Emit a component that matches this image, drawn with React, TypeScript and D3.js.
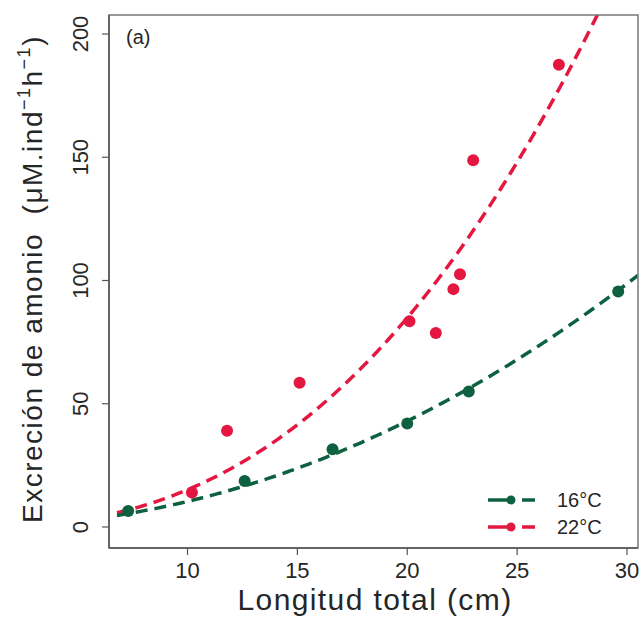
import React from "react";
import * as d3 from "d3";

const x16 = [7.3, 12.6, 16.6, 20.0, 22.8, 29.6];
const y16 = [6.5, 18.7, 31.5, 42, 55, 95.5];
const x22 = [10.2, 11.8, 15.1, 20.1, 21.3, 22.1, 22.4, 23.0, 26.9];
const y22 = [14, 39, 58.5, 83.5, 78.7, 96.5, 102.5, 148.8, 187.5];
// power-law fits y = a * x^b as drawn
const fit16 = { a: 0.0925, b: 2.05 };
const fit22 = { a: 0.0489, b: 2.49 };
const xTicks = [10, 15, 20, 25, 30];
const yTicks = [0, 50, 100, 150, 200];
const legendLabels = ["16°C", "22°C"];

const GREEN = "#0d6140";
const RED = "#e3173f";
const W = 640, H = 619;
const L = 109, R = 638, T = 15, B = 548;

export default function App() {
  const x = d3.scaleLinear().domain([10, 30]).range([187.5, 627]);
  const y = d3.scaleLinear().domain([0, 200]).range([527, 34]);
  const line = d3.line<[number, number]>().x(d => x(d[0])).y(d => y(d[1]));
  const curve = (f: { a: number; b: number }, x0: number, x1: number) => {
    const pts: [number, number][] = [];
    for (let i = 0; i <= 120; i++) {
      const xv = x0 + ((x1 - x0) * i) / 120;
      pts.push([xv, f.a * Math.pow(xv, f.b)]);
    }
    return line(pts) || "";
  };
  const xMin = x.invert(L + 8);
  const xMax = x.invert(R);
  const font = "Liberation Sans, Arial, sans-serif";
  const tc = "#262626";
  return (
    <svg width={W} height={H} style={{ position: "absolute", left: 0, top: 0 }} fontFamily={font}>
      <rect width={W} height={H} fill="#fff" />
      <defs>
        <clipPath id="plot">
          <rect x={L} y={T} width={R - L} height={B - T} />
        </clipPath>
      </defs>
      <g clipPath="url(#plot)">
        <path d={curve(fit22, xMin, xMax)} fill="none" stroke={RED} strokeWidth={3.5} strokeDasharray="12 7" />
        <path d={curve(fit16, xMin, xMax)} fill="none" stroke={GREEN} strokeWidth={3.5} strokeDasharray="12 7" />
        {x22.map((v, i) => (
          <circle key={"r" + i} cx={x(v)} cy={y(y22[i])} r={6} fill={RED} />
        ))}
        {x16.map((v, i) => (
          <circle key={"g" + i} cx={x(v)} cy={y(y16[i])} r={6} fill={GREEN} />
        ))}
      </g>
      <rect x={L} y={T} width={R - L} height={B - T} fill="none" stroke="#777" strokeWidth={1.5} />
      <line x1={L} y1={T} x2={L} y2={B} stroke="#555" strokeWidth={1.5} />
      <line x1={L} y1={B} x2={R} y2={B} stroke="#555" strokeWidth={1.5} />
      {yTicks.map(t => (
        <g key={"y" + t}>
          <line x1={L - 7} x2={L} y1={y(t)} y2={y(t)} stroke="#555" strokeWidth={1.2} />
          <text transform={`translate(${88},${y(t)}) rotate(-90)`} textAnchor="middle" fontSize={22} fill={tc}>{t}</text>
        </g>
      ))}
      {xTicks.map(t => (
        <g key={"x" + t}>
          <line x1={x(t)} x2={x(t)} y1={B} y2={B + 7} stroke="#555" strokeWidth={1.2} />
          <text x={x(t)} y={578} textAnchor="middle" fontSize={22} fill={tc}>{t}</text>
        </g>
      ))}
      <text x={375} y={610} textAnchor="middle" fontSize={30} letterSpacing={1.4} fill={tc}>Longitud total (cm)</text>
      <text transform={`translate(${42},${279}) rotate(-90)`} textAnchor="middle" fontSize={28} letterSpacing={1.5} fill={tc}>
        Excreción de amonio{"\u00a0\u00a0"}(μM.ind
        <tspan fontSize={18} dy={-12}>−1</tspan>
        <tspan dy={12}>h</tspan>
        <tspan fontSize={18} dy={-12}>−1</tspan>
        <tspan dy={12}>)</tspan>
      </text>
      <text x={126} y={44} fontSize={20} fill={tc}>(a)</text>
      {legendLabels.map((lab, i) => {
        const c = i === 0 ? GREEN : RED;
        const ly = 500 + i * 27;
        return (
          <g key={lab}>
            <line x1={488} x2={514} y1={ly} y2={ly} stroke={c} strokeWidth={3.5} />
            <line x1={522} x2={535} y1={ly} y2={ly} stroke={c} strokeWidth={3.5} />
            <circle cx={511} cy={ly} r={4.5} fill={c} />
            <text x={557} y={ly + 7} fontSize={20} fill={tc}>{lab}</text>
          </g>
        );
      })}
    </svg>
  );
}
